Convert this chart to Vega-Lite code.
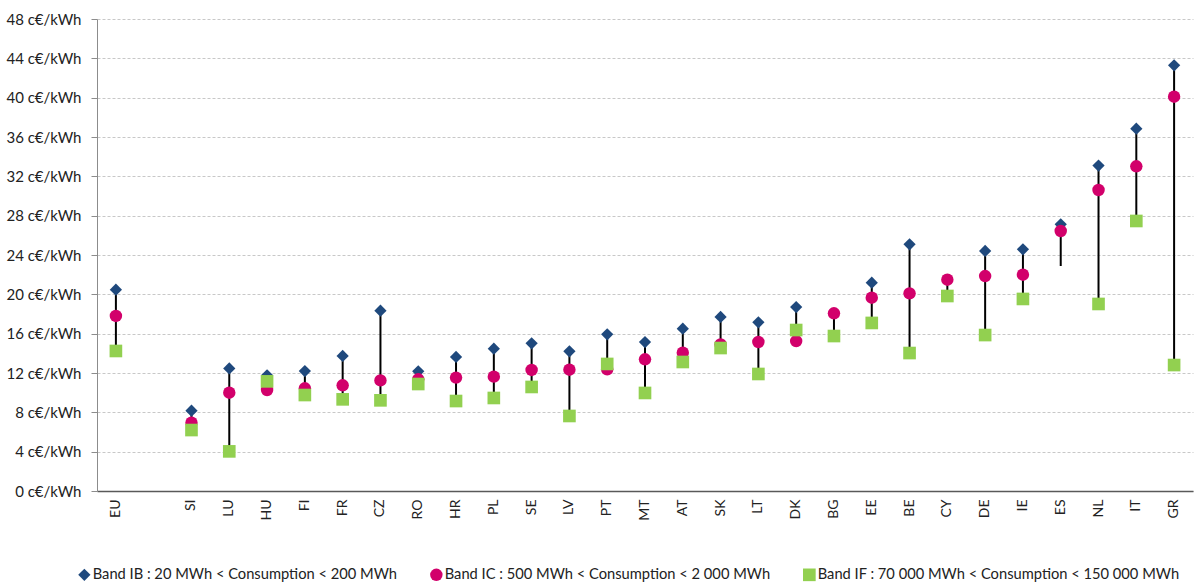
{
  "$schema": "https://vega.github.io/schema/vega-lite/v6.json",
  "autosize": {"type": "none"},
  "padding": {"left": 97, "top": 19, "right": 3, "bottom": 91},
  "width": 1096,
  "height": 472,
  "background": "white",
  "config": {
    "view": {"stroke": null},
    "font": "Lato",
    "axis": {"labelFont": "Lato", "labelColor": "#222222"},
    "legend": {"labelFont": "Lato", "labelColor": "#222222"}
  },
  "datasets": {
    "prices": [
      {"country": "EU", "band": "Band IB : 20 MWh < Consumption < 200 MWh", "value": 20.47},
      {"country": "SI", "band": "Band IB : 20 MWh < Consumption < 200 MWh", "value": 8.17},
      {"country": "LU", "band": "Band IB : 20 MWh < Consumption < 200 MWh", "value": 12.47},
      {"country": "HU", "band": "Band IB : 20 MWh < Consumption < 200 MWh", "value": 11.76},
      {"country": "FI", "band": "Band IB : 20 MWh < Consumption < 200 MWh", "value": 12.2},
      {"country": "FR", "band": "Band IB : 20 MWh < Consumption < 200 MWh", "value": 13.73},
      {"country": "CZ", "band": "Band IB : 20 MWh < Consumption < 200 MWh", "value": 18.34},
      {"country": "RO", "band": "Band IB : 20 MWh < Consumption < 200 MWh", "value": 12.17},
      {"country": "HR", "band": "Band IB : 20 MWh < Consumption < 200 MWh", "value": 13.63},
      {"country": "PL", "band": "Band IB : 20 MWh < Consumption < 200 MWh", "value": 14.47},
      {"country": "SE", "band": "Band IB : 20 MWh < Consumption < 200 MWh", "value": 15.02},
      {"country": "LV", "band": "Band IB : 20 MWh < Consumption < 200 MWh", "value": 14.2},
      {"country": "PT", "band": "Band IB : 20 MWh < Consumption < 200 MWh", "value": 15.93},
      {"country": "MT", "band": "Band IB : 20 MWh < Consumption < 200 MWh", "value": 15.15},
      {"country": "AT", "band": "Band IB : 20 MWh < Consumption < 200 MWh", "value": 16.51},
      {"country": "SK", "band": "Band IB : 20 MWh < Consumption < 200 MWh", "value": 17.7},
      {"country": "LT", "band": "Band IB : 20 MWh < Consumption < 200 MWh", "value": 17.15},
      {"country": "DK", "band": "Band IB : 20 MWh < Consumption < 200 MWh", "value": 18.71},
      {"country": "EE", "band": "Band IB : 20 MWh < Consumption < 200 MWh", "value": 21.19},
      {"country": "BE", "band": "Band IB : 20 MWh < Consumption < 200 MWh", "value": 25.09},
      {"country": "DE", "band": "Band IB : 20 MWh < Consumption < 200 MWh", "value": 24.41},
      {"country": "IE", "band": "Band IB : 20 MWh < Consumption < 200 MWh", "value": 24.58},
      {"country": "ES", "band": "Band IB : 20 MWh < Consumption < 200 MWh", "value": 27.12},
      {"country": "NL", "band": "Band IB : 20 MWh < Consumption < 200 MWh", "value": 33.1},
      {"country": "IT", "band": "Band IB : 20 MWh < Consumption < 200 MWh", "value": 36.85},
      {"country": "GR", "band": "Band IB : 20 MWh < Consumption < 200 MWh", "value": 43.29},
      {"country": "EU", "band": "Band IC : 500 MWh < Consumption < 2 000 MWh", "value": 17.8},
      {"country": "SI", "band": "Band IC : 500 MWh < Consumption < 2 000 MWh", "value": 6.95},
      {"country": "LU", "band": "Band IC : 500 MWh < Consumption < 2 000 MWh", "value": 10.0},
      {"country": "HU", "band": "Band IC : 500 MWh < Consumption < 2 000 MWh", "value": 10.27},
      {"country": "FI", "band": "Band IC : 500 MWh < Consumption < 2 000 MWh", "value": 10.44},
      {"country": "FR", "band": "Band IC : 500 MWh < Consumption < 2 000 MWh", "value": 10.75},
      {"country": "CZ", "band": "Band IC : 500 MWh < Consumption < 2 000 MWh", "value": 11.25},
      {"country": "RO", "band": "Band IC : 500 MWh < Consumption < 2 000 MWh", "value": 11.36},
      {"country": "HR", "band": "Band IC : 500 MWh < Consumption < 2 000 MWh", "value": 11.53},
      {"country": "PL", "band": "Band IC : 500 MWh < Consumption < 2 000 MWh", "value": 11.63},
      {"country": "SE", "band": "Band IC : 500 MWh < Consumption < 2 000 MWh", "value": 12.31},
      {"country": "LV", "band": "Band IC : 500 MWh < Consumption < 2 000 MWh", "value": 12.34},
      {"country": "PT", "band": "Band IC : 500 MWh < Consumption < 2 000 MWh", "value": 12.37},
      {"country": "MT", "band": "Band IC : 500 MWh < Consumption < 2 000 MWh", "value": 13.39},
      {"country": "AT", "band": "Band IC : 500 MWh < Consumption < 2 000 MWh", "value": 14.07},
      {"country": "SK", "band": "Band IC : 500 MWh < Consumption < 2 000 MWh", "value": 14.9},
      {"country": "LT", "band": "Band IC : 500 MWh < Consumption < 2 000 MWh", "value": 15.15},
      {"country": "DK", "band": "Band IC : 500 MWh < Consumption < 2 000 MWh", "value": 15.25},
      {"country": "BG", "band": "Band IC : 500 MWh < Consumption < 2 000 MWh", "value": 18.07},
      {"country": "EE", "band": "Band IC : 500 MWh < Consumption < 2 000 MWh", "value": 19.66},
      {"country": "BE", "band": "Band IC : 500 MWh < Consumption < 2 000 MWh", "value": 20.1},
      {"country": "CY", "band": "Band IC : 500 MWh < Consumption < 2 000 MWh", "value": 21.49},
      {"country": "DE", "band": "Band IC : 500 MWh < Consumption < 2 000 MWh", "value": 21.86},
      {"country": "IE", "band": "Band IC : 500 MWh < Consumption < 2 000 MWh", "value": 22.0},
      {"country": "ES", "band": "Band IC : 500 MWh < Consumption < 2 000 MWh", "value": 26.44},
      {"country": "NL", "band": "Band IC : 500 MWh < Consumption < 2 000 MWh", "value": 30.61},
      {"country": "IT", "band": "Band IC : 500 MWh < Consumption < 2 000 MWh", "value": 33.02},
      {"country": "GR", "band": "Band IC : 500 MWh < Consumption < 2 000 MWh", "value": 40.1},
      {"country": "EU", "band": "Band IF : 70 000 MWh < Consumption < 150 000 MWh", "value": 14.24},
      {"country": "SI", "band": "Band IF : 70 000 MWh < Consumption < 150 000 MWh", "value": 6.2},
      {"country": "LU", "band": "Band IF : 70 000 MWh < Consumption < 150 000 MWh", "value": 4.03},
      {"country": "HU", "band": "Band IF : 70 000 MWh < Consumption < 150 000 MWh", "value": 11.15},
      {"country": "FI", "band": "Band IF : 70 000 MWh < Consumption < 150 000 MWh", "value": 9.76},
      {"country": "FR", "band": "Band IF : 70 000 MWh < Consumption < 150 000 MWh", "value": 9.32},
      {"country": "CZ", "band": "Band IF : 70 000 MWh < Consumption < 150 000 MWh", "value": 9.22},
      {"country": "RO", "band": "Band IF : 70 000 MWh < Consumption < 150 000 MWh", "value": 10.88},
      {"country": "HR", "band": "Band IF : 70 000 MWh < Consumption < 150 000 MWh", "value": 9.15},
      {"country": "PL", "band": "Band IF : 70 000 MWh < Consumption < 150 000 MWh", "value": 9.46},
      {"country": "SE", "band": "Band IF : 70 000 MWh < Consumption < 150 000 MWh", "value": 10.58},
      {"country": "LV", "band": "Band IF : 70 000 MWh < Consumption < 150 000 MWh", "value": 7.63},
      {"country": "PT", "band": "Band IF : 70 000 MWh < Consumption < 150 000 MWh", "value": 12.92},
      {"country": "MT", "band": "Band IF : 70 000 MWh < Consumption < 150 000 MWh", "value": 9.97},
      {"country": "AT", "band": "Band IF : 70 000 MWh < Consumption < 150 000 MWh", "value": 13.12},
      {"country": "SK", "band": "Band IF : 70 000 MWh < Consumption < 150 000 MWh", "value": 14.54},
      {"country": "LT", "band": "Band IF : 70 000 MWh < Consumption < 150 000 MWh", "value": 11.9},
      {"country": "DK", "band": "Band IF : 70 000 MWh < Consumption < 150 000 MWh", "value": 16.37},
      {"country": "BG", "band": "Band IF : 70 000 MWh < Consumption < 150 000 MWh", "value": 15.76},
      {"country": "EE", "band": "Band IF : 70 000 MWh < Consumption < 150 000 MWh", "value": 17.09},
      {"country": "BE", "band": "Band IF : 70 000 MWh < Consumption < 150 000 MWh", "value": 14.03},
      {"country": "CY", "band": "Band IF : 70 000 MWh < Consumption < 150 000 MWh", "value": 19.83},
      {"country": "DE", "band": "Band IF : 70 000 MWh < Consumption < 150 000 MWh", "value": 15.86},
      {"country": "IE", "band": "Band IF : 70 000 MWh < Consumption < 150 000 MWh", "value": 19.53},
      {"country": "NL", "band": "Band IF : 70 000 MWh < Consumption < 150 000 MWh", "value": 19.02},
      {"country": "IT", "band": "Band IF : 70 000 MWh < Consumption < 150 000 MWh", "value": 27.46},
      {"country": "GR", "band": "Band IF : 70 000 MWh < Consumption < 150 000 MWh", "value": 12.81}
    ],
    "ranges": [
      {"country": "EU", "low": 14.24, "high": 20.47},
      {"country": "SI", "low": 6.2, "high": 8.17},
      {"country": "LU", "low": 4.03, "high": 12.47},
      {"country": "HU", "low": 10.27, "high": 11.76},
      {"country": "FI", "low": 9.76, "high": 12.2},
      {"country": "FR", "low": 9.32, "high": 13.73},
      {"country": "CZ", "low": 9.22, "high": 18.34},
      {"country": "RO", "low": 10.88, "high": 12.17},
      {"country": "HR", "low": 9.15, "high": 13.63},
      {"country": "PL", "low": 9.46, "high": 14.47},
      {"country": "SE", "low": 10.58, "high": 15.02},
      {"country": "LV", "low": 7.63, "high": 14.2},
      {"country": "PT", "low": 12.37, "high": 15.93},
      {"country": "MT", "low": 9.97, "high": 15.15},
      {"country": "AT", "low": 13.12, "high": 16.51},
      {"country": "SK", "low": 14.54, "high": 17.7},
      {"country": "LT", "low": 11.9, "high": 17.15},
      {"country": "DK", "low": 15.25, "high": 18.71},
      {"country": "BG", "low": 15.76, "high": 18.07},
      {"country": "EE", "low": 17.09, "high": 21.19},
      {"country": "BE", "low": 14.03, "high": 25.09},
      {"country": "CY", "low": 19.83, "high": 21.49},
      {"country": "DE", "low": 15.86, "high": 24.41},
      {"country": "IE", "low": 19.53, "high": 24.58},
      {"country": "ES", "low": 22.88, "high": 27.12},
      {"country": "NL", "low": 19.02, "high": 33.1},
      {"country": "IT", "low": 27.46, "high": 36.85},
      {"country": "GR", "low": 12.81, "high": 43.29}
    ]
  },
  "layer": [
    {
      "data": {"name": "ranges"},
      "mark": {"type": "rule", "color": "#000000", "strokeWidth": 2},
      "encoding": {
        "x": {"field": "country", "type": "nominal"},
        "y": {"field": "low", "type": "quantitative"},
        "y2": {"field": "high"}
      }
    },
    {
      "data": {"name": "prices"},
      "mark": {"type": "point", "filled": true, "opacity": 1, "strokeWidth": 0},
      "encoding": {
        "x": {"field": "country", "type": "nominal"},
        "y": {"field": "value", "type": "quantitative"},
        "color": {
          "field": "band", "type": "nominal",
          "scale": {
            "domain": ["Band IB : 20 MWh < Consumption < 200 MWh", "Band IC : 500 MWh < Consumption < 2 000 MWh", "Band IF : 70 000 MWh < Consumption < 150 000 MWh"],
            "range": ["#1f497d", "#d2006b", "#92d050"]
          },
          "legend": {
            "title": null, "orient": "none", "direction": "horizontal",
            "legendX": -20, "legendY": 548,
            "labelFontSize": 14.7, "labelLimit": 500, "symbolSize": 55, "columnPadding": 31,
            "symbolOffset": 0, "labelOffset": 1, "symbolStrokeWidth": 0
          }
        },
        "shape": {
          "field": "band", "type": "nominal",
          "scale": {
            "domain": ["Band IB : 20 MWh < Consumption < 200 MWh", "Band IC : 500 MWh < Consumption < 2 000 MWh", "Band IF : 70 000 MWh < Consumption < 150 000 MWh"],
            "range": ["diamond", "circle", "square"]
          }
        },
        "size": {
          "field": "band", "type": "ordinal",
          "scale": {
            "domain": ["Band IB : 20 MWh < Consumption < 200 MWh", "Band IC : 500 MWh < Consumption < 2 000 MWh", "Band IF : 70 000 MWh < Consumption < 150 000 MWh"],
            "range": [150, 160, 196]
          },
          "legend": null
        }
      }
    }
  ],
  "resolve": {"scale": {"x": "shared", "y": "shared"}},
  "encoding": {
    "x": {
      "field": "country", "type": "nominal",
      "scale": {
        "domain": ["EU", " ", "SI", "LU", "HU", "FI", "FR", "CZ", "RO", "HR", "PL", "SE", "LV", "PT", "MT", "AT", "SK", "LT", "DK", "BG", "EE", "BE", "CY", "DE", "IE", "ES", "NL", "IT", "GR"],
        "paddingInner": 0, "paddingOuter": 0
      },
      "axis": {
        "title": null, "labelAngle": -90, "labelAlign": "right", "labelBaseline": "middle",
        "ticks": false, "labelPadding": 8, "labelFontSize": 14,
        "domainColor": "#595959", "domainWidth": 1.5, "grid": false
      }
    },
    "y": {
      "type": "quantitative",
      "scale": {"domain": [0, 48], "nice": false, "zero": true},
      "axis": {
        "title": null, "values": [0, 4, 8, 12, 16, 20, 24, 28, 32, 36, 40, 44, 48],
        "labelExpr": "datum.value + ' c€/kWh'", "labelFontSize": 15, "labelPadding": 10,
        "tickSize": 6, "tickColor": "#8c8c8c", "domainColor": "#8c8c8c", "domainWidth": 1,
        "grid": true, "gridColor": "#c8c8c8", "gridDash": [3, 2], "gridWidth": 1
      }
    }
  }
}
